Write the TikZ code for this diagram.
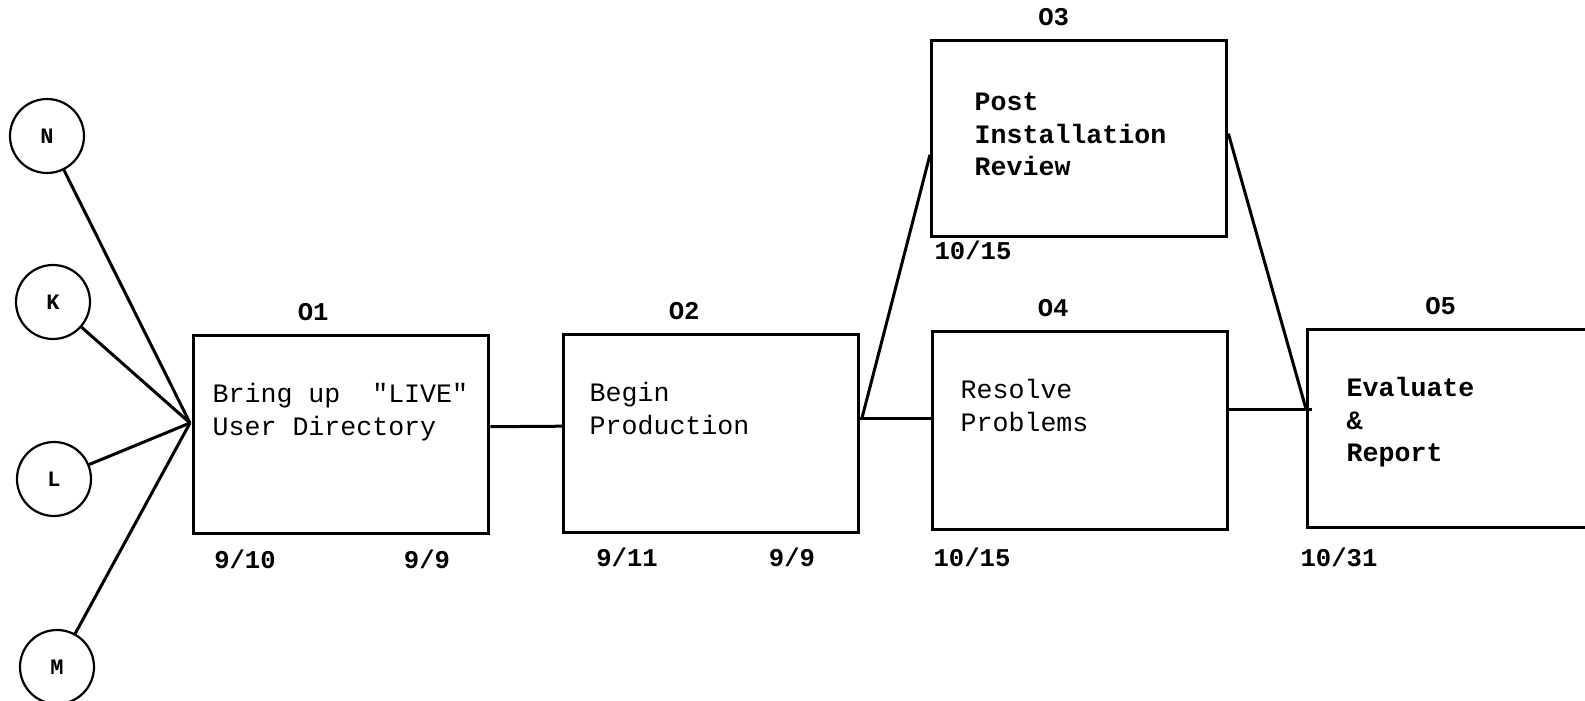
\documentclass[tikz,border=0pt]{standalone}
\usepackage{fontspec}
\newfontfamily\typer{Liberation Mono}
\newcommand{\boxfont}{\typer\fontsize{13.3}{16.25}\selectfont}
\newcommand{\numfont}{\typer\bfseries\fontsize{12.8}{15}\selectfont}

\begin{document}
\begin{tikzpicture}[
  x=0.5pt, y=-0.5pt,
  task/.style={draw, line width=1.7pt, rectangle, anchor=north west, align=left,
    inner xsep=0pt, inner ysep=0pt, minimum width=147.5pt,
    text height=33.5pt, text depth=65.5pt, font=\boxfont, text width=#1,
    execute at begin node={\spaceskip=0.6em\relax}},
  num/.style={font=\numfont, label distance=3pt},
  date/.style={font=\numfont, inner sep=0pt},
  dept/.style={circle, draw, line width=1.1pt, minimum size=37pt, inner sep=0pt,
    font=\typer\bfseries\fontsize{11}{13}\selectfont},
  link/.style={line width=1.5pt}
]
\useasboundingbox (0,0) rectangle (1585,701);
\clip (0,0) rectangle (1585,701);

% Departments feeding the first step.
\node[dept] (N) at (47,136) {N};
\node[dept] (K) at (53,302) {K};
\node[dept] (L) at (54,479) {L};
\node[dept] (M) at (57,667) {M};

% Steps of the schedule.
\node[task=128.5pt, label={[num, xshift=-14pt]above:O1}] (O1) at (192,334)
  {Bring up\ \ "LIVE"\\User Directory};
\node[task=121.5pt, label={[num, xshift=-13.5pt]above:O2}] (O2) at (562,333)
  {Begin\\Production};
\node[task=104.5pt, text height=35pt, text depth=63pt, font=\boxfont\bfseries,
  label={[num, xshift=-12.75pt]above:O3}] (O3) at (930,39)
  {Post\\Installation\\Review};
\node[task=119.5pt, label={[num, xshift=-13.5pt]above:O4}] (O4) at (931,330)
  {Resolve\\Problems};
\node[task=108.5pt, font=\boxfont\bfseries, label={[num, xshift=-7.25pt]above:O5}]
  (O5) at (1306,328) {Evaluate\\\&\\Report};

% Dates under the steps.
\node[date] (d1s) at (245,559) {9/10};
\node[date] (d1f) at (427,559) {9/9};
\node[date] (d2s) at (627,557) {9/11};
\node[date] (d2f) at (792,557) {9/9};
\node[date] (d3) at (973,250) {10/15};
\node[date] (d4) at (972,557) {10/15};
\node[date] (d5) at (1339,557) {10/31};

% Connections.
\coordinate (hub) at (190,423);
\foreach \d in {N,K,L,M}
  \draw[link] (\d) -- (hub);
\draw[link] ([yshift=4pt]O1.east) -- ([yshift=3.75pt]O2.west);

\coordinate (fork) at (862,418);
\draw[link] (fork -| O2.east) -- (fork -| O4.west);
\draw[link] (fork) -- ([yshift=-8pt]O3.west);

\coordinate (merge) at (1306,409);
\draw[link] ([yshift=2.5pt]O3.east) -- (merge);
\draw[link] (merge -| O4.east) -- ([xshift=3pt]merge);
\end{tikzpicture}
\end{document}
